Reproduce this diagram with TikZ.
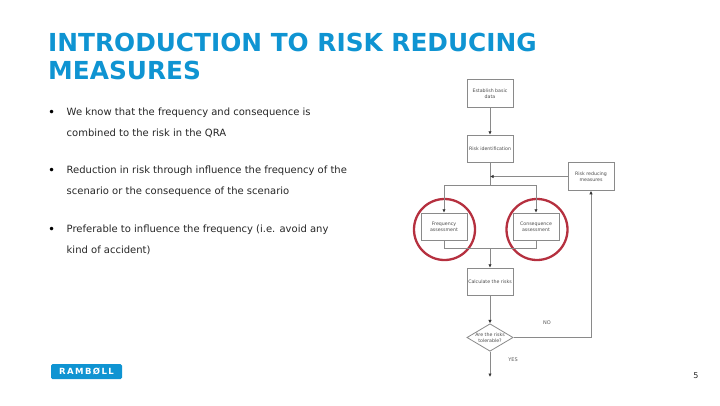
\documentclass[tikz,border=0pt]{standalone}
\usepackage{fontspec}
\setmainfont{DejaVu Sans}
\usetikzlibrary{shapes.geometric,arrows.meta}
\definecolor{ramblue}{HTML}{0F94D2}
\definecolor{ringred}{HTML}{B5303F}
\definecolor{linegray}{HTML}{8A8A8A}
\tikzset{
 flowbox/.style={draw=linegray,line width=1pt,fill=white,minimum width=46pt,minimum height=27.5pt,inner sep=0pt,align=center,font=\fontsize{4.7}{6.2}\selectfont,text=black!70},
 flowdec/.style={draw=linegray,line width=0.8pt,fill=white,diamond,aspect=1.7,minimum width=46pt,minimum height=27.5pt,inner sep=0pt,align=center,font=\fontsize{4.7}{6.2}\selectfont,text=black!70},
 flow/.style={draw=linegray,line width=1pt},
 flowarrow/.style={flow,-{Latex[length=3.5pt,width=3.5pt,black!80]}},
 ring/.style={draw=ringred,line width=2.3pt,circle,minimum size=61pt,inner sep=0pt},
 heading/.style={anchor=base west,inner sep=0pt,text=ramblue,font=\fontsize{24.8}{28}\selectfont\bfseries},
 bodytext/.style={anchor=base west,inner sep=0pt,text=black!85,font=\fontsize{10}{12}\selectfont},
 bulletmark/.style={anchor=base west,inner sep=0pt,text=black,font=\fontsize{12}{12}\selectfont},
 flowlabel/.style={inner sep=0pt,text=black!65,font=\fontsize{5}{6}\selectfont},
}
\begin{document}
\begin{tikzpicture}[x=1pt,y=-1pt]
\useasboundingbox (0,0) rectangle (720,405);
\node[heading] (t1) at (48,51.5) {INTRODUCTION TO RISK REDUCING};
\node[heading] (t2) at (48,79.5) {MEASURES};
\node[bulletmark] (b1) at (48,116) {•};
\node[bodytext] (l1) at (66.5,115.5) {We know that the frequency and consequence is};
\node[bodytext] (l2) at (66.5,136.5) {combined to the risk in the QRA};
\node[bulletmark] (b2) at (48,174) {•};
\node[bodytext] (l3) at (66.5,173.5) {Reduction in risk through influence the frequency of the};
\node[bodytext] (l4) at (66.5,194.5) {scenario or the consequence of the scenario};
\node[bulletmark] (b3) at (48,233) {•};
\node[bodytext] (l5) at (66.5,232.5) {Preferable to influence the frequency (i.e. avoid any};
\node[bodytext] (l6) at (66.5,253.5) {kind of accident)};

\node[ring] (r1) at (444.5,229.5) {};
\node[ring] (r2) at (537,229.5) {};
\node[flowbox] (est) at (490,93.5) {Establish basic\\data};
\node[flowbox] (rid) at (490,149) {Risk identification};
\node[flowbox] (red) at (591,176.5) {Risk reducing\\measures};
\node[flowbox] (frq) at (444,227) {Frequency\\assessment};
\node[flowbox] (con) at (536,227) {Consequence\\assessment};
\node[flowbox] (cal) at (490,282) {Calculate the risks};
\node[flowdec] (dec) at (490,337.5) {Are the risks\\tolerable?};
\coordinate (join) at (490,176.5);
\coordinate (top) at (490,185);
\coordinate (topl) at (444,185);
\coordinate (topr) at (536,185);
\coordinate (botl) at (444,248);
\coordinate (botr) at (536,248);
\coordinate (bot) at (490,248);
\coordinate (corner) at (591,337.5);
\coordinate (endp) at (490,377);
\draw[flowarrow] (est) -- (rid);
\draw[flow] (rid) -- (top);
\draw[flowarrow] (red.west) -- (join);
\draw[flowarrow] (top) -- (topl) -- (frq.north);
\draw[flowarrow] (top) -- (topr) -- (con.north);
\draw[flow] (frq.south) -- (botl) -- (botr) -- (con.south);
\draw[flowarrow] (bot) -- (cal);
\draw[flowarrow] (cal) -- (dec);
\draw[flowarrow] (dec) -- (endp);
\draw[flowarrow] (dec.east) -- (corner) -- (red.south);
\node[flowlabel] (no) at (547,323) {NO};
\node[flowlabel] (yes) at (513,360) {YES};

\node[fill=ramblue,rounded corners=1.5pt,minimum width=71pt,minimum height=15pt,inner sep=0pt,text=white,font=\fontsize{8.5}{9}\selectfont\bfseries] (logo) at (86.5,371.5) {R\hspace{1.4pt}A\hspace{1.4pt}M\hspace{1.4pt}B\hspace{1.4pt}Ø\hspace{1.4pt}L\hspace{1.4pt}L};
\node[inner sep=0pt,text=black!85,font=\fontsize{8}{9}\selectfont] (pg) at (696,375.5) {5};
\end{tikzpicture}
\end{document}
